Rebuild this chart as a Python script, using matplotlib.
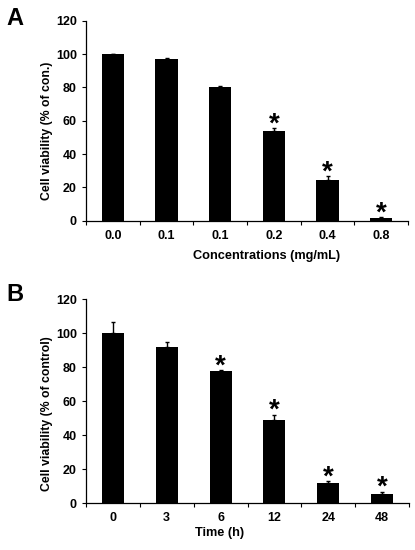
import numpy as np
import matplotlib
matplotlib.use("Agg")
import matplotlib.pyplot as plt

plt.rcParams['font.family'] = ['Liberation Sans', 'DejaVu Sans']
plt.rcParams['font.weight'] = 'bold'

# Panel A data
conc_labels = ["0.0", "0.1", "0.1", "0.2", "0.4", "0.8"]
conc_values = [100.0, 96.8, 80.0, 54.0, 24.2, 1.5]
conc_errors = [0.3, 0.6, 0.6, 1.4, 2.4, 0.5]
conc_sig = [False, False, False, True, True, True]

# Panel B data
time_labels = ["0", "3", "6", "12", "24", "48"]
time_values = [100.0, 92.0, 77.5, 49.0, 12.0, 5.5]
time_errors = [6.5, 3.0, 0.6, 2.8, 0.7, 1.2]
time_sig = [False, False, True, True, True, True]

fig = plt.figure(figsize=(4.15, 5.5), dpi=100)
W, H = 415, 550


def add_axes(left, top, right, bottom):
    return fig.add_axes([left / W, 1 - bottom / H, (right - left) / W, (bottom - top) / H])


def draw_panel(ax, labels, values, errors, sig, ylabel, xlabel, xlab_pos, ylab_pos):
    x = np.arange(len(values))
    ax.bar(x, values, width=0.41, color="black", zorder=2)
    ax.errorbar(x, values, yerr=[np.zeros(len(errors)), errors], fmt="none",
                ecolor="black", elinewidth=1.0, capsize=1.6, capthick=1.0, zorder=3)
    for xi, v, e, s in zip(x, values, errors, sig):
        if s:
            # asterisk sits just above the error bar cap
            ax.annotate("*", (xi, v + e), xytext=(0, -2.2), textcoords="offset points",
                        ha="center", va="baseline", fontsize=20, fontweight="bold")
    ax.set_xlim(-0.5, len(values) - 0.5)
    ax.set_ylim(0, 120)
    ax.set_yticks(np.arange(0, 121, 20))
    ax.set_xticks(x)
    ax.set_xticklabels(labels)
    ax.set_xticks(np.arange(-0.5, len(values), 1.0), minor=True)
    ax.tick_params(axis="x", which="major", length=0, pad=6.5, labelsize=9)
    ax.tick_params(axis="x", which="minor", length=3, width=0.8, direction="out")
    ax.tick_params(axis="y", length=3, width=0.8, direction="out", pad=3.5, labelsize=9)
    for lab in ax.get_xticklabels() + ax.get_yticklabels():
        lab.set_fontweight("bold")
    ax.spines["top"].set_visible(False)
    ax.spines["right"].set_visible(False)
    ax.spines["left"].set_linewidth(0.9)
    ax.spines["bottom"].set_linewidth(0.9)
    ax.set_ylabel(ylabel, fontsize=8.8, fontweight="bold")
    ax.set_xlabel(xlabel, fontsize=9.2, fontweight="bold")
    ax.yaxis.set_label_coords(*ylab_pos)
    ax.xaxis.set_label_coords(*xlab_pos)


axA = add_axes(86, 20.7, 408, 220.7)
draw_panel(axA, conc_labels, conc_values, conc_errors, conc_sig,
           "Cell viability (% of con.)", "Concentrations (mg/mL)",
           (0.562, -0.145), (-0.101, 0.45))

axB = add_axes(86, 299, 409, 503)
draw_panel(axB, time_labels, time_values, time_errors, time_sig,
           "Cell viability (% of control)", "Time (h)",
           (0.415, -0.12), (-0.101, 0.436))

fig.text(6 / W, 1 - 25 / H, "A", fontsize=17, fontweight="bold")
fig.text(6 / W, 1 - 301 / H, "B", fontsize=17, fontweight="bold")

fig.savefig("out.png", dpi=100)
